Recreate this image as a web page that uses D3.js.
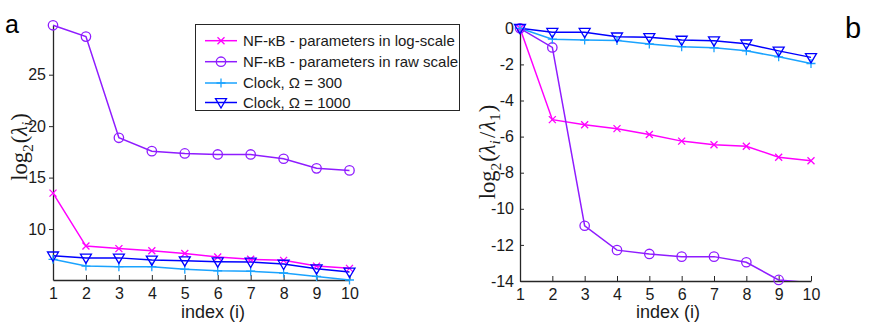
<!DOCTYPE html>
<html><head><meta charset="utf-8">
<script src="https://cdn.jsdelivr.net/npm/d3@7"></script>
<style>body{margin:0;background:#fff}svg{display:block}</style>
</head><body><svg id="c" width="878" height="334"></svg>
<script>
const indices = [1,2,3,4,5,6,7,8,9,10];
// panel a: log2(lambda_i)
const logScaleA  = [13.49, 8.35, 8.1, 7.9, 7.63, 7.28, 7.06, 6.96, 6.4, 6.18];
const rawScaleA  = [29.8, 28.7, 18.87, 17.57, 17.35, 17.25, 17.25, 16.83, 15.9, 15.7];
const clock300A  = [7.06, 6.4, 6.34, 6.34, 6.1, 5.95, 5.9, 5.73, 5.4, 5.05];
const clock1000A = [7.4, 7.2, 7.2, 7.0, 6.93, 6.83, 6.8, 6.6, 6.15, 5.83];
// panel b: log2(lambda_i / lambda_1)
const logScaleB  = [0, -5.06, -5.34, -5.56, -5.88, -6.25, -6.45, -6.53, -7.14, -7.34];
const rawScaleB  = [0, -1.06, -10.94, -12.29, -12.5, -12.65, -12.65, -12.96, -13.94, -14.1];
const clock300B  = [0, -0.6, -0.65, -0.67, -0.87, -1.02, -1.08, -1.25, -1.58, -1.95];
const clock1000B = [0, -0.22, -0.22, -0.47, -0.5, -0.65, -0.69, -0.86, -1.25, -1.61];
const yTicksA = [10, 15, 20, 25];
const yTicksB = [0, -2, -4, -6, -8, -10, -12, -14];
const seriesNames = ["NF-\u03baB - parameters in log-scale", "NF-\u03baB - parameters in raw scale", "Clock, \u03a9 = 300", "Clock, \u03a9 = 1000"];
const seriesColors = ["#ff00ff", "#8f1cff", "#1aa3ff", "#0000ff"];
const seriesMarkers = ["x", "o", "+", "v"];

const svg = d3.select("#c");
const FONT = "'Liberation Sans', Arial, Helvetica, sans-serif";
const SERIF = "'Liberation Serif', 'DejaVu Serif', serif";

function marker(g, type, color) {
  const s = g.append("g").attr("fill", "none").attr("stroke", color).attr("stroke-width", 1.3);
  if (type === "x") {
    s.append("path").attr("d", "M-3.5,-3.5L3.5,3.5M-3.5,3.5L3.5,-3.5");
  } else if (type === "o") {
    s.append("circle").attr("r", 4.7);
  } else if (type === "+") {
    s.append("path").attr("d", "M-4.5,0L4.5,0M0,-4.5L0,4.5");
  } else if (type === "v") {
    s.append("path").attr("d", "M-5.5,-3.8L5.5,-3.8L0,5.5Z");
  }
}

function drawPanel(cfg) {
  const x = d3.scaleLinear().domain([1, 10]).range(cfg.xr);
  const y = d3.scaleLinear().domain(cfg.yd).range(cfg.yr);
  const g = svg.append("g");
  const clipId = "clip" + cfg.id;
  svg.append("clipPath").attr("id", clipId).append("rect")
    .attr("x", cfg.xr[0] - 10).attr("y", cfg.yr[1] - 10)
    .attr("width", cfg.xr[1] - cfg.xr[0] + 20).attr("height", cfg.yr[0] - cfg.yr[1] + 10);

  const xAxis = d3.axisBottom(x).tickValues(indices).tickSize(-5).tickSizeOuter(0).tickPadding(8).tickFormat(d => String(d));
  const xa = g.append("g").attr("transform", `translate(0,${cfg.yr[0]})`).call(xAxis);
  const yAxis = d3.axisLeft(y).tickValues(cfg.yTicks).tickSize(cfg.yTickSize).tickSizeOuter(0).tickPadding(cfg.yPad).tickFormat(d => String(d));
  const ya = g.append("g").attr("transform", `translate(${cfg.xr[0]},0)`).call(yAxis);
  [xa, ya].forEach(a => {
    a.select(".domain").attr("stroke", "#262626").attr("stroke-width", 1.3);
    a.selectAll(".tick line").attr("stroke", "#262626").attr("stroke-width", 1);
    a.selectAll("text").attr("font-family", FONT).attr("font-size", 16).attr("fill", "#1a1a1a");
  });

  const line = d3.line().x((d, i) => x(indices[i])).y(d => y(d));
  const lg = g.append("g").attr("clip-path", `url(#${clipId})`);
  cfg.series.forEach((vals, k) => {
    lg.append("path").datum(vals).attr("d", line).attr("fill", "none")
      .attr("stroke", seriesColors[k]).attr("stroke-width", 1.5);
  });
  cfg.series.forEach((vals, k) => {
    vals.forEach((v, i) => {
      if (v < cfg.yd[0] - 0.001) return;
      const m = g.append("g").attr("transform", `translate(${x(indices[i])},${y(v)})`);
      marker(m, seriesMarkers[k], seriesColors[k]);
    });
  });

  g.append("text").attr("x", cfg.xlabelX).attr("y", 318)
    .attr("text-anchor", "middle").attr("font-family", FONT).attr("font-size", 18)
    .attr("fill", "#1a1a1a").text("index (i)");
  return {x, y};
}

drawPanel({id: "a", xr: [53, 349.5], yd: [5.05, 29.8], yr: [280, 25.3], yTicks: yTicksA,
  yTickSize: 4, yPad: 3, xlabelX: 213, series: [logScaleA, rawScaleA, clock300A, clock1000A]});
drawPanel({id: "b", xr: [520, 811], yd: [-14, 0], yr: [281, 28.3], yTicks: yTicksB,
  yTickSize: -4, yPad: 6, xlabelX: 668, series: [logScaleB, rawScaleB, clock300B, clock1000B]});

function mathLabel(cx, cy, parts) {
  const t = svg.append("text").attr("transform", `translate(${cx},${cy}) rotate(-90)`)
    .attr("text-anchor", "middle").attr("font-family", SERIF).attr("font-size", 22.5).attr("fill", "#1a1a1a");
  parts.forEach(p => {
    const ts = t.append("tspan").text(p.t);
    if (p.sub) ts.attr("font-size", 15.5).attr("dy", p.dy);
    else if (p.dy) ts.attr("dy", p.dy);
    if (p.it) ts.attr("font-style", "italic");
    if (p.dx) ts.attr("dx", p.dx);
  });
}
mathLabel(27, 147, [{t: "log"}, {t: "2", sub: true, dy: 5.5}, {t: "(", dy: -5.5, dx: 1}, {t: "\u03bb", it: true},
  {t: "i", sub: true, it: true, dy: 4.5}, {t: ")", dy: -4.5, dx: 1}]);
mathLabel(495, 152, [{t: "log"}, {t: "2", sub: true, dy: 5.5}, {t: "(", dy: -5.5, dx: 1}, {t: "\u03bb", it: true},
  {t: "i", sub: true, it: true, dy: 4.5}, {t: "/", dy: -4.5, dx: 2}, {t: "\u03bb", it: true, dx: 1},
  {t: "1", sub: true, dy: 4.5}, {t: ")", dy: -4.5, dx: 1}]);

svg.append("text").attr("x", 5).attr("y", 33).attr("font-family", FONT).attr("font-size", 25).attr("fill", "#000").text("a");
svg.append("text").attr("x", 845).attr("y", 37.5).attr("font-family", FONT).attr("font-size", 29).attr("fill", "#000").text("b");

const leg = svg.append("g");
leg.append("rect").attr("x", 195.5).attr("y", 24.5).attr("width", 264).attr("height", 86)
  .attr("fill", "#fff").attr("stroke", "#262626").attr("stroke-width", 1);
const rowY = [40.7, 61.7, 83, 102.5];
seriesNames.forEach((name, k) => {
  const yy = rowY[k];
  leg.append("line").attr("x1", 205).attr("x2", 237).attr("y1", yy).attr("y2", yy)
    .attr("stroke", seriesColors[k]).attr("stroke-width", 1.5);
  marker(leg.append("g").attr("transform", `translate(221,${yy})`), seriesMarkers[k], seriesColors[k]);
  leg.append("text").attr("x", 243).attr("y", yy + 5.3).attr("font-family", FONT).attr("font-size", 15)
    .attr("fill", "#1a1a1a").text(name);
});
</script></body></html>
